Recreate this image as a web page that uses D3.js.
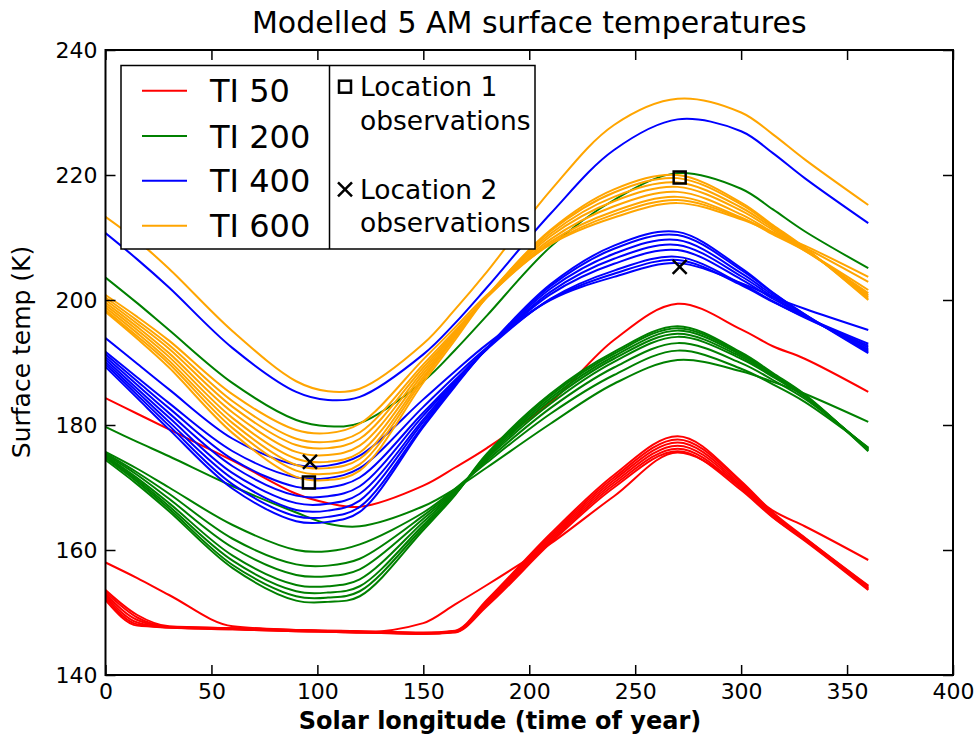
<!DOCTYPE html>
<html>
<head>
<meta charset="utf-8">
<script src="https://cdn.jsdelivr.net/npm/d3@7/dist/d3.min.js"></script>
<style>
  body { margin: 0; background: #fff; }
  text { font-family: "DejaVu Sans", sans-serif; fill: #000; }
</style>
</head>
<body>
<div id="chart"></div>
<script>
// Solar longitude knots shared by every modelled curve
var solarLongitude = [0, 15, 30, 60, 90, 105, 120, 150, 165, 180, 210, 240, 270, 300, 315, 330, 360];

// Modelled temperatures (K), one row per model run
var ti50 = [
  [184.3, 181.8, 179.3, 174.3, 169.0, 167.5, 166.9, 170.3, 173.2, 176.3, 183.6, 193.6, 199.4, 195.3, 192.6, 190.6, 185.3],
  [158.0, 155.5, 152.8, 147.8, 147.2, 147.0, 146.8, 148.3, 151.3, 154.4, 161.0, 168.6, 175.6, 170.2, 166.3, 163.8, 158.4],
  [153.6, 149.6, 147.8, 147.5, 147.2, 147.1, 147.0, 146.8, 147.1, 152.0, 162.6, 172.0, 178.2, 171.0, 166.0, 162.0, 154.3],
  [153.3, 149.2, 147.7, 147.5, 147.2, 147.1, 147.0, 146.7, 147.0, 151.8, 162.3, 171.6, 177.7, 170.8, 165.8, 161.9, 154.2],
  [153.0, 148.8, 147.7, 147.4, 147.1, 147.0, 146.9, 146.7, 147.0, 151.6, 162.0, 171.2, 177.2, 170.5, 165.6, 161.8, 154.0],
  [152.7, 148.4, 147.6, 147.4, 147.1, 147.0, 146.9, 146.6, 146.9, 151.4, 161.7, 170.8, 176.7, 170.2, 165.4, 161.7, 153.9],
  [152.4, 148.1, 147.6, 147.3, 147.0, 146.9, 146.8, 146.6, 146.9, 151.2, 161.4, 170.4, 176.2, 169.9, 165.3, 161.6, 153.7],
  [152.0, 147.9, 147.6, 147.3, 147.0, 146.9, 146.8, 146.6, 146.8, 151.0, 161.1, 170.0, 175.8, 169.6, 165.2, 161.5, 153.6]
];
var ti200 = [
  [203.6, 199.5, 195.2, 186.7, 180.8, 179.8, 180.3, 187.0, 192.0, 197.5, 208.5, 216.0, 220.3, 217.8, 214.5, 211.0, 205.1],
  [179.7, 177.3, 175.0, 170.2, 166.0, 164.2, 163.8, 167.0, 169.8, 173.2, 180.2, 186.6, 190.4, 188.6, 186.9, 185.0, 180.5],
  [175.7, 173.0, 170.0, 164.0, 160.0, 159.8, 160.9, 166.0, 169.8, 174.0, 181.8, 188.0, 191.9, 189.0, 186.5, 183.7, 176.4],
  [175.5, 172.4, 169.0, 161.8, 157.7, 157.5, 158.6, 165.5, 169.6, 174.3, 182.7, 189.2, 193.1, 189.9, 187.2, 184.2, 176.3],
  [175.3, 172.0, 168.2, 160.4, 156.0, 155.8, 156.9, 165.0, 169.4, 174.6, 183.4, 190.1, 194.1, 190.6, 187.7, 184.5, 176.2],
  [175.1, 171.5, 167.5, 159.1, 154.4, 154.2, 155.3, 164.5, 169.2, 174.8, 183.9, 190.6, 194.6, 190.9, 187.9, 184.6, 176.1],
  [174.9, 171.2, 167.0, 158.3, 153.4, 153.2, 154.2, 164.0, 169.0, 175.0, 184.3, 191.0, 195.1, 191.2, 188.1, 184.7, 176.0],
  [174.7, 170.9, 166.6, 157.6, 152.6, 152.4, 153.4, 163.6, 168.9, 175.2, 184.7, 191.4, 195.5, 191.4, 188.2, 184.8, 175.9],
  [174.4, 170.5, 166.2, 157.1, 151.9, 151.7, 152.6, 163.2, 168.8, 175.4, 185.0, 191.7, 195.8, 191.6, 188.3, 184.9, 175.8]
];
var ti400 = [
  [210.7, 206.5, 202.0, 192.3, 185.3, 184.0, 184.5, 191.3, 196.3, 202.0, 213.8, 224.0, 228.9, 227.0, 223.5, 219.5, 212.3],
  [193.9, 189.8, 185.7, 177.8, 173.6, 173.5, 175.1, 184.1, 188.6, 192.9, 200.0, 203.7, 205.9, 202.7, 200.5, 198.6, 195.2],
  [191.7, 187.6, 183.5, 175.8, 171.6, 171.5, 173.1, 182.9, 187.8, 192.4, 200.1, 204.2, 206.4, 202.4, 199.7, 197.3, 193.0],
  [191.3, 187.0, 182.7, 174.5, 170.1, 170.0, 171.6, 182.0, 187.2, 192.1, 200.2, 204.7, 206.9, 202.6, 199.8, 197.2, 192.7],
  [190.9, 186.4, 181.9, 173.4, 168.7, 168.6, 170.2, 181.5, 187.0, 192.2, 200.9, 205.8, 208.0, 203.3, 200.2, 197.4, 192.4],
  [190.5, 185.8, 181.2, 172.3, 167.5, 167.4, 169.0, 180.9, 186.8, 192.2, 201.3, 206.6, 208.8, 203.8, 200.5, 197.4, 192.1],
  [190.1, 185.3, 180.5, 171.4, 166.4, 166.3, 167.9, 180.5, 186.5, 192.2, 201.8, 207.4, 209.6, 204.3, 200.8, 197.6, 191.9],
  [189.7, 184.8, 179.9, 170.5, 165.4, 165.3, 166.9, 180.0, 186.4, 192.3, 202.2, 208.2, 210.4, 204.8, 201.1, 197.7, 191.7],
  [189.3, 184.3, 179.3, 169.8, 164.6, 164.5, 166.1, 179.7, 186.2, 192.3, 202.5, 208.7, 210.9, 205.1, 201.2, 197.7, 191.5]
];
var ti600 = [
  [213.3, 209.5, 205.0, 195.0, 187.0, 185.4, 185.8, 193.0, 198.5, 204.5, 217.5, 228.0, 232.2, 230.0, 226.5, 222.5, 215.2],
  [200.8, 197.3, 193.5, 184.9, 179.2, 178.7, 180.2, 190.5, 195.6, 200.8, 208.9, 213.2, 215.5, 212.9, 210.8, 208.7, 203.7],
  [200.4, 196.7, 192.8, 183.8, 177.8, 177.3, 178.8, 189.7, 195.1, 200.5, 209.0, 213.7, 216.0, 213.1, 210.8, 208.4, 202.9],
  [200.0, 196.2, 192.2, 182.9, 176.8, 176.3, 177.8, 189.2, 194.8, 200.4, 209.3, 214.2, 216.5, 213.2, 210.5, 207.9, 201.6],
  [199.6, 195.7, 191.5, 182.0, 175.7, 175.2, 176.7, 188.7, 194.6, 200.5, 209.7, 215.0, 217.3, 213.7, 210.8, 207.9, 201.1],
  [199.2, 195.2, 190.9, 181.1, 174.6, 174.1, 175.6, 188.2, 194.3, 200.5, 210.2, 215.8, 218.1, 214.3, 211.2, 208.1, 200.8],
  [198.8, 194.7, 190.3, 180.3, 173.6, 173.1, 174.6, 187.7, 194.1, 200.5, 210.6, 216.5, 218.8, 214.8, 211.5, 208.2, 200.5],
  [198.4, 194.2, 189.8, 179.5, 172.7, 172.2, 173.7, 187.3, 194.0, 200.6, 211.0, 217.2, 219.5, 215.3, 211.8, 208.3, 200.2],
  [198.1, 193.8, 189.2, 178.7, 171.7, 171.2, 172.7, 186.8, 193.6, 200.5, 211.2, 217.7, 220.0, 215.6, 212.0, 208.4, 200.0]
];

// Observations
var loc1Ls = [96, 271];
var loc1Temp = [170.8, 219.6];
var loc2Ls = [96.5, 271];
var loc2Temp = [174.1, 205.3];

// Legend labels and axis ticks
var tiLabels = ["TI 50", "TI 200", "TI 400", "TI 600"];
var tiColors = ["#ff0000", "#008000", "#0000ff", "#ffa500"];
var xTicks = [0, 50, 100, 150, 200, 250, 300, 350, 400];
var yTicks = [140, 160, 180, 200, 220, 240];

var width = 979, height = 740;
var margin = { top: 50, right: 26, bottom: 65, left: 105.5 };

var svg = d3.select("#chart").append("svg")
    .attr("width", width)
    .attr("height", height);

svg.append("rect").attr("width", width).attr("height", height).attr("fill", "#fff");

var x = d3.scaleLinear().domain([0, 400]).range([margin.left, width - margin.right]);
var y = d3.scaleLinear().domain([140, 240]).range([height - margin.bottom, margin.top]);

svg.append("clipPath").attr("id", "plot-clip")
  .append("rect")
    .attr("x", x(0)).attr("y", y(240))
    .attr("width", x(400) - x(0)).attr("height", y(140) - y(240));

// Curves: smooth for the sinusoid-like runs, monotone where the TI 50 runs sit on the frost floor
var smoothLine = d3.line()
    .x(function (d, i) { return x(solarLongitude[i]); })
    .y(function (d) { return y(d); })
    .curve(d3.curveCatmullRom.alpha(0.5));
var floorLine = d3.line()
    .x(function (d, i) { return x(solarLongitude[i]); })
    .y(function (d) { return y(d); })
    .curve(d3.curveMonotoneX);

var plot = svg.append("g").attr("clip-path", "url(#plot-clip)");

[ti50, ti200, ti400, ti600].forEach(function (group, gi) {
    plot.append("g").selectAll("path")
        .data(group)
        .enter().append("path")
        .attr("d", function (d, i) { return (gi === 0 && i > 0) ? floorLine(d) : smoothLine(d); })
        .attr("fill", "none")
        .attr("stroke", tiColors[gi])
        .attr("stroke-width", 2);
});

// Observation markers
function squareMarker(g, cx, cy) {
    g.append("rect")
        .attr("x", cx - 6).attr("y", cy - 6)
        .attr("width", 12).attr("height", 12)
        .attr("fill", "none").attr("stroke", "#000").attr("stroke-width", 2.5);
}
function crossMarker(g, cx, cy) {
    g.append("path")
        .attr("d", "M" + (cx - 7) + "," + (cy - 7) + "L" + (cx + 7) + "," + (cy + 7) +
                   "M" + (cx - 7) + "," + (cy + 7) + "L" + (cx + 7) + "," + (cy - 7))
        .attr("stroke", "#000").attr("stroke-width", 2.5).attr("fill", "none");
}
var markers = svg.append("g");
loc1Ls.forEach(function (ls, i) { squareMarker(markers, x(ls), y(loc1Temp[i])); });
loc2Ls.forEach(function (ls, i) { crossMarker(markers, x(ls), y(loc2Temp[i])); });

// Axes: ticks point inwards on all four sides
var axisBottomG = svg.append("g")
    .attr("transform", "translate(0," + y(140) + ")")
    .call(d3.axisBottom(x).tickValues(xTicks).tickSizeInner(-10).tickSizeOuter(0).tickPadding(8));
var axisTopG = svg.append("g")
    .attr("transform", "translate(0," + y(240) + ")")
    .call(d3.axisTop(x).tickValues(xTicks).tickSizeInner(-10).tickSizeOuter(0).tickFormat(""));
var axisLeftG = svg.append("g")
    .attr("transform", "translate(" + x(0) + ",0)")
    .call(d3.axisLeft(y).tickValues(yTicks).tickSizeInner(-10).tickSizeOuter(0).tickPadding(8));
var axisRightG = svg.append("g")
    .attr("transform", "translate(" + x(400) + ",0)")
    .call(d3.axisRight(y).tickValues(yTicks).tickSizeInner(-10).tickSizeOuter(0).tickFormat(""));

[axisBottomG, axisTopG, axisLeftG, axisRightG].forEach(function (a) {
    a.select(".domain").remove();
    a.selectAll(".tick line").attr("stroke", "#000").attr("stroke-width", 1.5);
    a.selectAll("text")
        .style("font-family", "DejaVu Sans")
        .style("font-size", "22px")
        .attr("fill", "#000");
});

// Frame
svg.append("rect")
    .attr("x", x(0)).attr("y", y(240))
    .attr("width", x(400) - x(0)).attr("height", y(140) - y(240))
    .attr("fill", "none").attr("stroke", "#000").attr("stroke-width", 2);

// Titles
svg.append("text")
    .attr("x", (x(0) + x(400)) / 2).attr("y", 33)
    .attr("text-anchor", "middle")
    .style("font-size", "30px")
    .text("Modelled 5 AM surface temperatures");

svg.append("text")
    .attr("x", 500).attr("y", 729)
    .attr("text-anchor", "middle")
    .style("font-size", "24px")
    .style("font-weight", "bold")
    .text("Solar longitude (time of year)");

svg.append("text")
    .attr("transform", "translate(30,352) rotate(-90)")
    .attr("text-anchor", "middle")
    .style("font-size", "25px")
    .text("Surface temp (K)");

// Legend
var legend = svg.append("g");
legend.append("rect")
    .attr("x", 121).attr("y", 65.5)
    .attr("width", 414).attr("height", 183.5)
    .attr("fill", "#fff").attr("stroke", "#000").attr("stroke-width", 1.5);
legend.append("line")
    .attr("x1", 329.5).attr("x2", 329.5).attr("y1", 65.5).attr("y2", 249)
    .attr("stroke", "#000").attr("stroke-width", 1.5);

var legendRows = [90.7, 136, 180.7, 225.7];
tiLabels.forEach(function (label, i) {
    legend.append("line")
        .attr("x1", 142).attr("x2", 187)
        .attr("y1", legendRows[i]).attr("y2", legendRows[i])
        .attr("stroke", tiColors[i]).attr("stroke-width", 2);
    legend.append("text")
        .attr("x", 210).attr("y", legendRows[i] + 11.5)
        .style("font-size", "32px")
        .text(label);
});

squareMarker(legend, 345, 86.7);
crossMarker(legend, 345, 189.3);
[["Location 1", 96], ["observations", 130], ["Location 2", 198.5], ["observations", 232]].forEach(function (t) {
    legend.append("text")
        .attr("x", 360).attr("y", t[1])
        .style("font-size", "26.5px")
        .text(t[0]);
});
</script>
</body>
</html>
